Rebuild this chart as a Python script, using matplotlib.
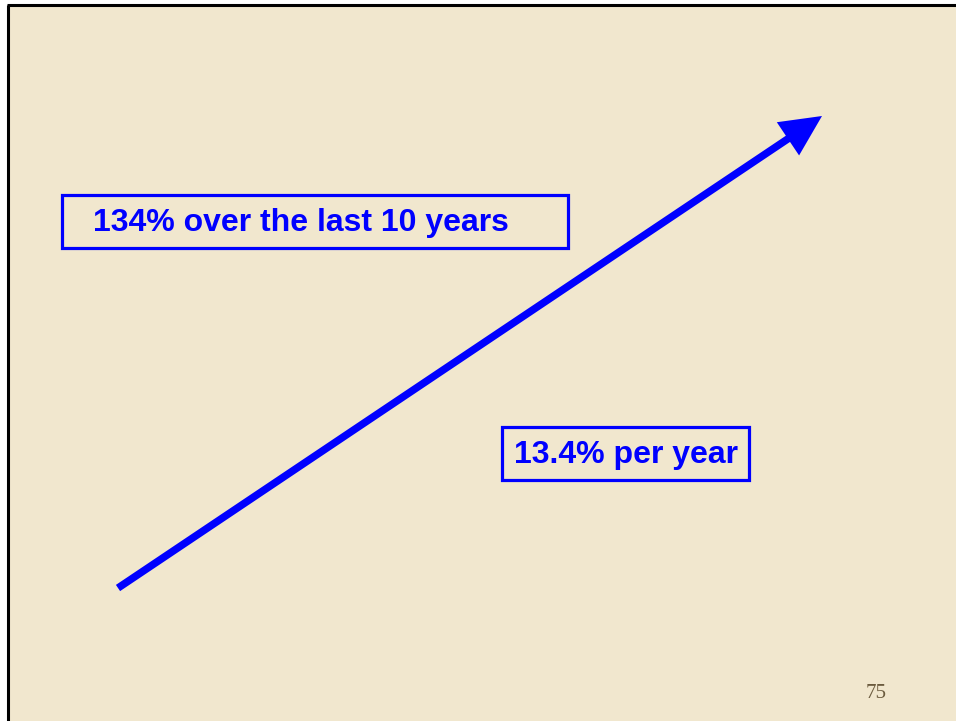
import matplotlib.pyplot as plt
from matplotlib.patches import Rectangle

# slide content (pixel coordinates of the 956x721 slide)
arrow_start = (118, 588)
arrow_tip = (822, 116)
labels = ['134% over the last 10 years', '13.4% per year']
label_boxes = [(62, 195, 506, 53), (502, 427, 247, 53)]   # x, y, w, h
label_text_pos = [(93, 223, 'left'), (626, 455, 'center')]
page_number = '75'

BLUE = '#0000FF'
PAPER = '#F1E7CE'

fig = plt.figure(figsize=(9.56, 7.21), dpi=100)
ax = fig.add_axes([0, 0, 1, 1])
ax.set_xlim(0, 956)
ax.set_ylim(721, 0)
ax.axis('off')

# paper background with black frame on top and left
ax.add_patch(Rectangle((8, 5), 960, 730, facecolor=PAPER, edgecolor='none'))
ax.plot([8, 8], [5, 721], color='black', lw=2.2, solid_capstyle='butt')
ax.plot([7, 956], [5, 5], color='black', lw=2.2, solid_capstyle='butt')

# growth arrow
dx = arrow_tip[0] - arrow_start[0]
dy = arrow_tip[1] - arrow_start[1]
ax.arrow(arrow_start[0], arrow_start[1], dx, dy, width=7.5, head_width=40,
         head_length=41, length_includes_head=True, color=BLUE, lw=0)

# boxed labels
for text, (bx, by, bw, bh), (tx, ty, ha) in zip(labels, label_boxes, label_text_pos):
    ax.add_patch(Rectangle((bx, by), bw, bh, facecolor='none', edgecolor=BLUE, lw=2.3))
    ax.text(tx, ty, text, color=BLUE, fontsize=23, fontweight='bold',
            family='Liberation Sans', ha=ha, va='center')

ax.text(876, 694, page_number, color='#6B5B3E', fontsize=15,
        family='Liberation Serif', ha='center', va='center')

plt.savefig('out.png', dpi=100)
